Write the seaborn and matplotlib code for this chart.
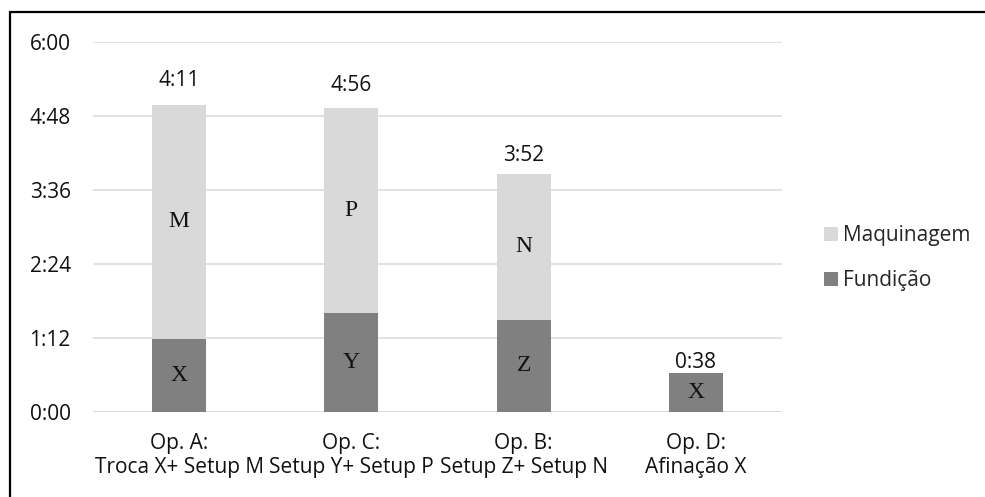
import matplotlib
matplotlib.use("Agg")
import matplotlib.pyplot as plt
from matplotlib.lines import Line2D
from matplotlib.patches import Patch
import seaborn as sns
import pandas as pd

# Operation times in minutes
categories = ["Op. A:\nTroca X+ Setup M", "Op. C:\nSetup Y+ Setup P",
              "Op. B:\nSetup Z+ Setup N", "Op. D:\nAfinação X"]
fundicao = [71, 96, 90, 38]
maquinagem = [228, 200, 142, 0]
total_labels = ["4:11", "4:56", "3:52", "0:38"]
fundicao_letters = ["X", "Y", "Z", "X"]
maquinagem_letters = ["M", "P", "N", ""]
yticks_min = [0, 72, 144, 216, 288, 360]

LIGHT = "#D9D9D9"
DARK = "#808080"
TEXT = "#111111"
SANS = "Open Sans"
SERIF = "Liberation Serif"
FS = 15

sns.set_theme(style="white")
plt.rcParams["font.family"] = [SANS, "DejaVu Sans"]

df = pd.DataFrame({
    "op": categories,
    "fundicao": fundicao,
    "maquinagem": maquinagem,
})
df["total"] = df["fundicao"] + df["maquinagem"]

fig = plt.figure(figsize=(9.85, 4.97), dpi=100)
ax = fig.add_axes([93 / 985, 1 - 412 / 497, (782 - 93) / 985, (412 - 42) / 497])

bar_w = 0.313
# Stacked bars: full height in light grey, lower segment in dark grey on top
sns.barplot(data=df, x="op", y="total", color=LIGHT, width=bar_w,
            saturation=1, linewidth=0, ax=ax, zorder=2)
sns.barplot(data=df, x="op", y="fundicao", color=DARK, width=bar_w,
            saturation=1, linewidth=0, ax=ax, zorder=3)

ax.set_ylim(0, 360)
ax.set_xlim(-0.5, len(categories) - 0.5)
ax.set_yticks(yticks_min)
ax.set_yticklabels([f"{m // 60}:{m % 60:02d}" for m in yticks_min])
ax.yaxis.grid(True, color=LIGHT, linewidth=1.1, zorder=0)
ax.xaxis.grid(False)
for s in ax.spines.values():
    s.set_visible(False)
ax.axhline(0, color=LIGHT, linewidth=1.1, zorder=1)
ax.set_xlabel("")
ax.set_ylabel("")
ax.tick_params(axis="y", length=0, pad=16, labelsize=FS, labelcolor=TEXT)
ax.tick_params(axis="x", length=0, pad=15, labelsize=FS, labelcolor=TEXT)
for t in ax.get_xticklabels():
    t.set_linespacing(1.2)

# Letters inside each segment
for i in range(len(categories)):
    f = fundicao[i]
    m = maquinagem[i]
    ax.text(i, f / 2, fundicao_letters[i], ha="center", va="center",
            family=SERIF, fontsize=17, color=TEXT, zorder=4)
    if maquinagem_letters[i]:
        ax.text(i, f + m / 2, maquinagem_letters[i], ha="center", va="center",
                family=SERIF, fontsize=17, color=TEXT, zorder=4)

# Total labels above bars
label_offsets_px = [24, 22, 18, 10]
for i, lab in enumerate(total_labels):
    ax.annotate(lab, (i, fundicao[i] + maquinagem[i]),
                xytext=(0, label_offsets_px[i] * 72 / 100), textcoords="offset points",
                ha="center", va="center", fontsize=FS, color=TEXT, zorder=5)

handles = [Patch(facecolor=LIGHT, edgecolor="none", label="Maquinagem"),
           Patch(facecolor=DARK, edgecolor="none", label="Fundição")]
fig.legend(handles=handles, loc="center left", bbox_to_anchor=(814 / 985, 1 - 258 / 497),
           frameon=False, fontsize=FS, handlelength=0.65, handleheight=0.65,
           handletextpad=0.25, labelspacing=1.15, borderpad=0)

# Outer frame (top and left edges)
fig.add_artist(Line2D([10 / 985, 1.0], [1 - 12 / 497, 1 - 12 / 497],
                      transform=fig.transFigure, color="black", linewidth=1.6))
fig.add_artist(Line2D([10 / 985, 10 / 985], [0, 1 - 12 / 497],
                      transform=fig.transFigure, color="black", linewidth=1.6))

fig.savefig("out.png", dpi=100, facecolor="white")
